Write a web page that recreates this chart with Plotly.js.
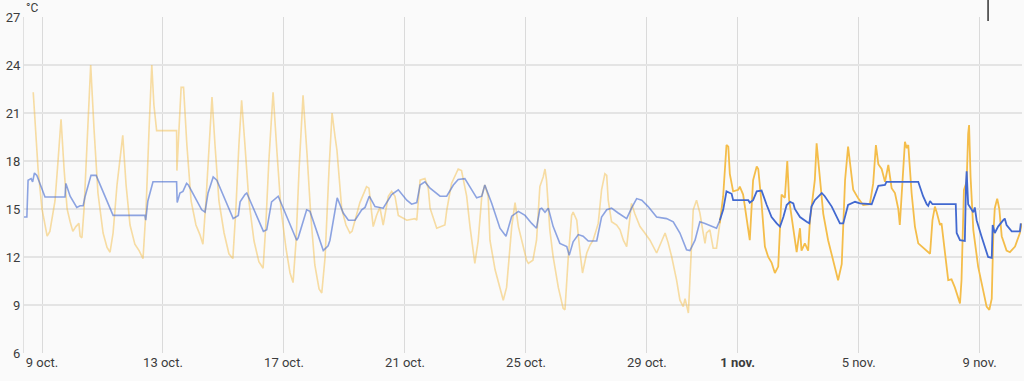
<!DOCTYPE html>
<html><head><meta charset="utf-8">
<script src="https://cdn.plot.ly/plotly-3.0.1.min.js"></script>
<style>html,body{margin:0;padding:0;background:#fafafa;}#chart{width:1024px;height:381px;}</style>
</head><body><div id="chart"></div>
<script>
// Time in "October days": 9 = 9 Oct 00:00, 32 = 1 Nov 00:00 (2024)
const outdoorT = [8.71,8.87,9.00,9.17,9.26,9.43,9.53,9.63,9.73,9.83,9.93,10.02,10.12,10.22,10.26,10.32,10.39,10.49,10.61,10.72,10.85,11.02,11.15,11.25,11.35,11.48,11.67,11.78,11.91,12.07,12.21,12.34,12.44,12.54,12.63,12.70,12.79,13.45,13.46,13.53,13.60,13.68,13.79,13.93,14.09,14.22,14.32,14.42,14.52,14.62,14.72,14.85,15.02,15.18,15.31,15.41,15.51,15.60,15.71,15.84,16.01,16.17,16.31,16.40,16.50,16.64,16.77,16.90,17.07,17.20,17.30,17.40,17.50,17.63,17.76,17.89,18.02,18.16,18.25,18.36,18.49,18.59,18.69,18.75,18.91,19.05,19.18,19.25,19.51,19.73,19.81,19.95,20.06,20.17,20.28,20.45,20.56,20.67,20.78,20.94,21.06,21.33,21.39,21.50,21.66,21.77,21.83,22.05,22.32,22.38,22.54,22.76,22.87,23.04,23.15,23.31,23.42,23.54,23.64,23.75,23.81,23.98,24.14,24.25,24.36,24.53,24.64,24.75,24.86,25.02,25.08,25.23,25.35,25.46,25.57,25.63,25.68,25.79,25.90,26.07,26.23,26.29,26.40,26.51,26.56,26.68,26.79,26.87,27.01,27.12,27.22,27.39,27.50,27.61,27.67,27.72,27.83,28.00,28.11,28.22,28.33,28.44,28.49,28.60,28.77,28.93,29.10,29.32,29.49,29.60,29.70,29.82,29.98,30.09,30.20,30.26,30.37,30.45,30.53,30.64,30.75,30.86,30.92,30.97,31.08,31.19,31.30,31.41,31.52,31.63,31.69,31.74,31.85,32.02,32.07,32.18,32.30,32.40,32.51,32.63,32.68,32.79,32.90,33.01,33.12,33.23,33.34,33.45,33.56,33.64,33.70,33.84,33.95,34.06,34.11,34.22,34.33,34.39,34.55,34.61,34.72,34.83,34.99,35.16,35.32,35.44,35.55,35.65,35.71,35.82,35.99,36.15,36.37,36.48,36.57,36.65,36.76,36.87,36.98,37.09,37.20,37.31,37.36,37.47,37.53,37.59,37.64,37.75,37.86,37.97,38.08,38.25,38.36,38.44,38.52,38.58,38.69,38.74,38.85,38.96,39.07,39.18,39.35,39.40,39.48,39.57,39.62,39.65,39.70,39.79,39.95,40.12,40.23,40.32,40.40,40.45,40.50,40.58,40.65,40.73,40.89,41.00,41.17,41.33,41.39];
const outdoorV = [22.3,17.5,15.0,13.3,13.6,15.5,18.0,20.6,17.5,15.0,14.2,13.6,13.9,14.1,13.3,13.2,15.0,19.5,24.0,20.0,16.0,13.5,12.6,12.3,13.5,16.5,19.6,16.5,14.0,12.8,12.4,11.9,15.0,20.0,24.0,21.5,19.9,19.9,17.4,20.0,22.6,22.6,19.0,15.5,14.0,13.4,12.8,15.5,19.0,22.0,19.0,15.5,13.5,12.2,11.9,15.0,19.0,21.8,19.0,15.5,13.0,11.7,11.3,14.0,18.0,22.3,18.5,15.0,12.5,11.0,10.4,13.0,17.5,22.1,18.5,14.5,11.5,10.0,9.75,12.0,17.5,21.0,19.5,18.7,15.0,14.0,13.5,13.6,15.4,16.4,16.3,13.9,14.6,15.1,14.0,15.8,16.1,15.8,14.6,14.4,14.3,14.4,14.3,16.8,16.9,16.3,15.05,13.8,14.0,14.9,16.6,17.5,17.4,15.8,13.9,11.6,13.0,15.8,16.5,15.8,13.05,11.2,10.1,9.3,10.1,13.9,15.4,13.9,13.05,11.8,11.6,11.8,13.05,16.4,17.0,17.5,16.8,13.7,12.0,10.1,8.8,8.7,12.0,14.6,14.8,14.3,12.25,11.0,12.25,12.75,13.05,14.1,16.2,17.2,17.1,15.55,14.2,14.0,13.7,13.05,12.65,14.7,15.35,14.7,13.9,13.5,13.05,12.25,13.05,13.5,12.9,12.0,10.55,9.3,8.9,9.4,8.5,11.7,14.95,15.55,14.75,13.5,12.85,13.5,13.7,12.55,12.55,14.1,15.8,19.0,18.9,17.2,16.1,16.2,16.4,15.9,14.3,13.05,16.8,17.65,17.5,15.35,12.65,12.0,11.65,11.0,11.4,15.9,15.7,18.0,15.6,13.7,12.3,13.8,12.4,12.85,12.4,14.3,16.8,19.1,16.8,14.7,13.05,11.8,10.55,11.55,16.8,18.9,17.9,16.2,15.65,15.25,15.3,16.6,19.0,17.8,17.5,16.7,17.75,16.3,16.0,15.0,14.0,17.0,19.2,18.8,19.0,16.0,13.9,12.85,12.65,12.4,12.2,14.3,15.15,14.8,14.0,14.1,12.4,10.55,10.6,10.1,9.1,10.55,16.2,16.7,19.7,20.25,17.0,13.7,11.4,9.95,8.9,8.7,9.4,13.3,15.05,15.65,15.0,13.3,12.4,12.3,12.65,13.5,14.1];
const indoorT = [8.40,8.50,8.54,8.64,8.69,8.75,8.83,8.93,9.00,9.10,9.76,9.79,9.93,10.02,10.15,10.26,10.36,10.42,10.52,10.62,10.79,11.35,12.40,12.43,12.50,12.67,13.45,13.47,13.56,13.66,13.78,13.84,14.28,14.39,14.49,14.66,14.78,15.32,15.49,15.55,15.71,15.77,16.32,16.43,16.59,16.81,17.42,17.47,17.75,17.86,18.30,18.46,18.52,18.76,18.96,19.13,19.35,19.57,19.68,19.82,20.01,20.28,20.56,20.78,21.06,21.22,21.39,21.50,21.66,21.83,22.16,22.38,22.60,22.76,22.98,23.20,23.37,23.54,23.64,23.87,24.14,24.34,24.53,24.75,24.86,24.97,25.19,25.35,25.46,25.52,25.63,25.74,25.90,26.12,26.35,26.43,26.56,26.73,26.89,27.06,27.34,27.50,27.67,27.83,28.05,28.33,28.49,28.66,28.83,29.04,29.32,29.65,29.87,30.09,30.31,30.42,30.59,30.75,30.92,31.14,31.30,31.41,31.52,31.63,31.80,31.85,32.35,32.40,32.51,32.63,32.79,32.96,33.12,33.29,33.40,33.51,33.62,33.73,33.84,33.89,34.06,34.28,34.37,34.44,34.55,34.78,34.88,35.11,35.27,35.38,35.49,35.65,35.88,36.04,36.43,36.65,36.87,36.92,37.97,38.13,38.25,38.30,38.36,38.44,39.21,39.24,39.35,39.51,39.55,39.57,39.62,39.68,39.79,39.84,39.90,40.06,40.28,40.40,40.43,40.50,40.61,40.78,40.83,40.89,41.06,41.33,41.36];
const indoorV = [14.5,14.5,16.8,16.9,16.7,17.25,17.1,16.6,16.3,15.75,15.75,16.6,15.8,15.5,15.1,15.2,15.2,15.75,16.5,17.1,17.1,14.6,14.6,14.3,15.5,16.7,16.7,15.4,16.0,16.1,16.6,16.5,14.95,14.8,16.0,17.0,16.8,14.4,14.6,15.45,15.9,16.0,13.6,13.7,15.45,15.8,13.05,13.2,14.95,14.85,12.4,12.7,13.05,15.7,14.75,14.3,14.3,14.95,15.1,15.8,15.15,15.05,15.9,16.2,15.55,15.3,15.4,16.5,16.7,16.3,15.8,15.8,16.5,16.85,16.9,16.2,15.7,15.8,16.5,15.35,13.8,13.3,14.55,14.85,14.7,14.6,14.1,13.8,15.0,15.05,14.8,15.05,13.9,12.85,12.65,12.1,12.95,13.4,13.3,13.0,13.0,14.5,14.95,15.05,14.75,14.4,15.05,15.65,15.55,15.15,14.5,14.4,14.2,13.5,12.45,12.4,13.05,14.2,14.1,13.9,13.8,14.3,14.95,16.1,15.95,15.55,15.55,15.4,15.55,16.1,16.15,15.25,14.5,14.1,13.9,14.5,15.25,15.45,15.35,15.0,14.5,14.2,14.1,15.15,15.55,16.0,15.8,15.15,14.5,14.1,14.1,15.25,15.45,15.35,15.3,16.45,16.5,16.7,16.7,15.8,15.3,15.2,15.5,15.3,15.3,13.5,13.05,13.0,16.6,17.35,15.3,15.1,14.8,15.1,14.3,13.3,12.0,11.95,14.0,13.5,13.9,14.3,14.4,14.0,13.6,13.6,14.1];
const tickDays = [9,13,17,21,25,29,32,36,40];
const tickLabels = ['9 oct.','13 oct.','17 oct.','21 oct.','25 oct.','29 oct.','<b>1 nov.</b>','5 nov.','9 nov.'];
const yTicks = [6,9,12,15,18,21,24,27];
const recentFrom = 31.41;   // older history drawn faded
const viewRange = [8.405, 41.40];

const base = Date.UTC(2024, 8, 30);
function toDate(d){ return new Date(base + d*864e5).toISOString().slice(0,19).replace('T',' '); }
function part(T, V, older){
  const x=[], y=[];
  for(let i=0;i<T.length;i++){
    if(older ? T[i] <= recentFrom : T[i] >= recentFrom){ x.push(toDate(T[i])); y.push(V[i]); }
  }
  return {x, y};
}
const YEL='#f4bd4a', BLU='#4269d0';
const traces = [];
[[outdoorT,outdoorV,YEL],[indoorT,indoorV,BLU]].forEach(([T,V,c])=>{
  const o = part(T,V,true), r = part(T,V,false);
  traces.push({type:'scatter',mode:'lines',x:o.x,y:o.y,line:{color:c,width:1.6},opacity:c===YEL?0.5:0.6,hoverinfo:'skip'});
  traces.push({type:'scatter',mode:'lines',x:r.x,y:r.y,line:{color:c,width:1.8},hoverinfo:'skip'});
});

const layout = {
  width:1024, height:381,
  margin:{l:24, r:2, t:17, b:28},
  paper_bgcolor:'#fafafa', plot_bgcolor:'#fafafa',
  showlegend:false,
  font:{family:'Roboto, sans-serif', size:13, color:'#3c3c3c'},
  xaxis:{type:'date', range:viewRange.map(toDate), tickvals:tickDays.map(toDate), ticktext:tickLabels,
    showgrid:true, gridcolor:'#dadada', gridwidth:1, zeroline:false, showline:false, ticks:'',
    tickfont:{size:13, color:'#3c3c3c'}, fixedrange:true},
  yaxis:{range:[6,27], tickvals:yTicks, showgrid:true, gridcolor:'#e4e4e4', gridwidth:1.2, zeroline:false,
    showline:true, linecolor:'#e0e0e0', ticks:'', tickfont:{size:13, color:'#3c3c3c'}, fixedrange:true},
  annotations:[{xref:'paper', yref:'paper', x:0, y:1+9/336, xanchor:'left', yanchor:'middle',
    text:'°C', showarrow:false, font:{size:12, color:'#3c3c3c'}}],
  shapes:[{type:'line', xref:'paper', yref:'paper', x0:0.966, x1:0.966, y0:1+17/336, y1:1-4/336,
    line:{color:'#333', width:1.5}}]
};
Plotly.newPlot('chart', traces, layout, {displayModeBar:false, staticPlot:true});
</script></body></html>
